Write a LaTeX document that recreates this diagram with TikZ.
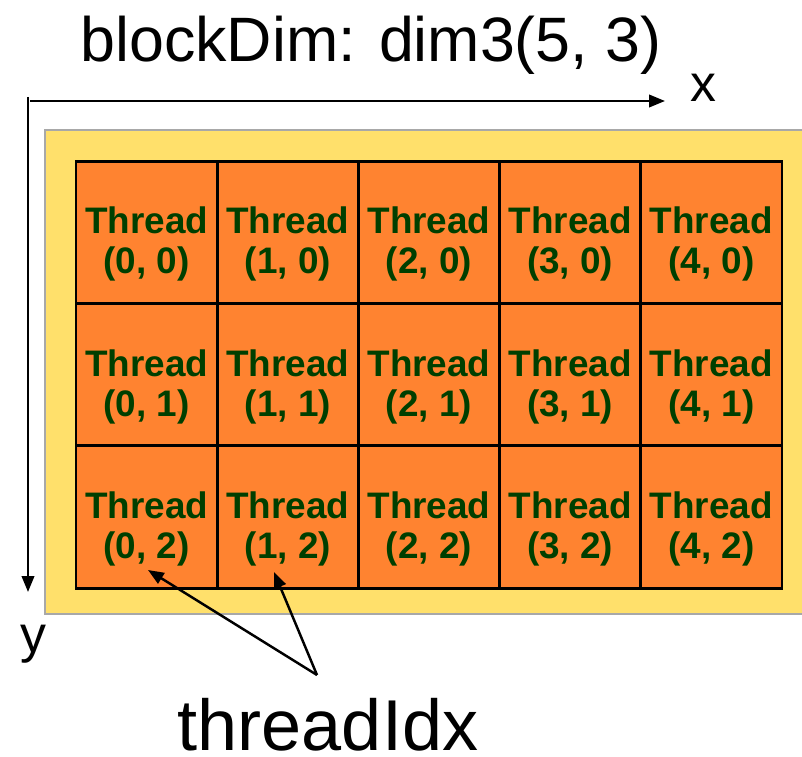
\documentclass[tikz,border=0pt]{standalone}
\usepackage{fontspec}
\setmainfont{Liberation Sans}
\usepackage{tikz}
\usetikzlibrary{arrows.meta}

\definecolor{blockyellow}{HTML}{FFE06B}
\definecolor{threadorange}{HTML}{FF8330}
\definecolor{threadgreen}{HTML}{003F00}
\definecolor{blockgray}{HTML}{A8A8A8}

\tikzset{
	cell/.style={draw=black, line width=1.7pt, fill=threadorange, minimum width=141.2*0.02cm, minimum height=142.33*0.02cm, inner sep=0pt},
	lbl/.style={align=center, text=threadgreen, font=\fontsize{21}{22.7}\selectfont\bfseries, inner sep=0pt},
	axis/.style={line width=1.4pt, -{Triangle[length=9pt, width=7pt]}},
	pointer/.style={line width=1.4pt, -{Triangle[length=9pt, width=7pt]}}
}

\begin{document}
\begin{tikzpicture}[x=0.02cm, y=-0.02cm]

	\useasboundingbox (0,0) rectangle (802,757);

	\fill[blockyellow] (45,130) rectangle (815,614);
	\draw[blockgray, line width=1.2pt] (815,130) -- (45,130) -- (45,614) -- (815,614);

	\foreach \i in {0,...,4} {
		\foreach \j in {0,...,2} {
			\node[cell] (c\i\j) at ({146.6+141.2*\i},{232.2+142.33*\j}) {};
			\node[lbl] (t\i\j) at ([yshift=-12*0.02cm]c\i\j.center) {Thread\\(\i, \j)};
		}
	}

	\node[anchor=base, font=\fontsize{35.7}{40}\selectfont] (title) at (371,62) {blockDim: dim3(5, 3)};

	\coordinate (xs) at (30,101);
	\coordinate (xe) at (665,101);
	\draw[axis] (xs) -- (xe);
	\node[anchor=base, font=\fontsize{29.5}{32}\selectfont] (xl) at (703,102) {x};

	\coordinate (ys) at (28,97);
	\coordinate (ye) at (28,592);
	\draw[axis] (ys) -- (ye);
	\node[anchor=base, font=\fontsize{29.5}{32}\selectfont] (yl) at (33,652) {y};

	\node[anchor=base, inner sep=0pt, font=\fontsize{41}{46}\selectfont] (idx) at (328,750) {threadIdx};
	\coordinate (fork) at (317,675);
	\coordinate (p0) at (148,570);
	\coordinate (p1) at (274,572);
	\draw[pointer] (fork) -- (p0);
	\draw[pointer] (fork) -- (p1);

\end{tikzpicture}
\end{document}
